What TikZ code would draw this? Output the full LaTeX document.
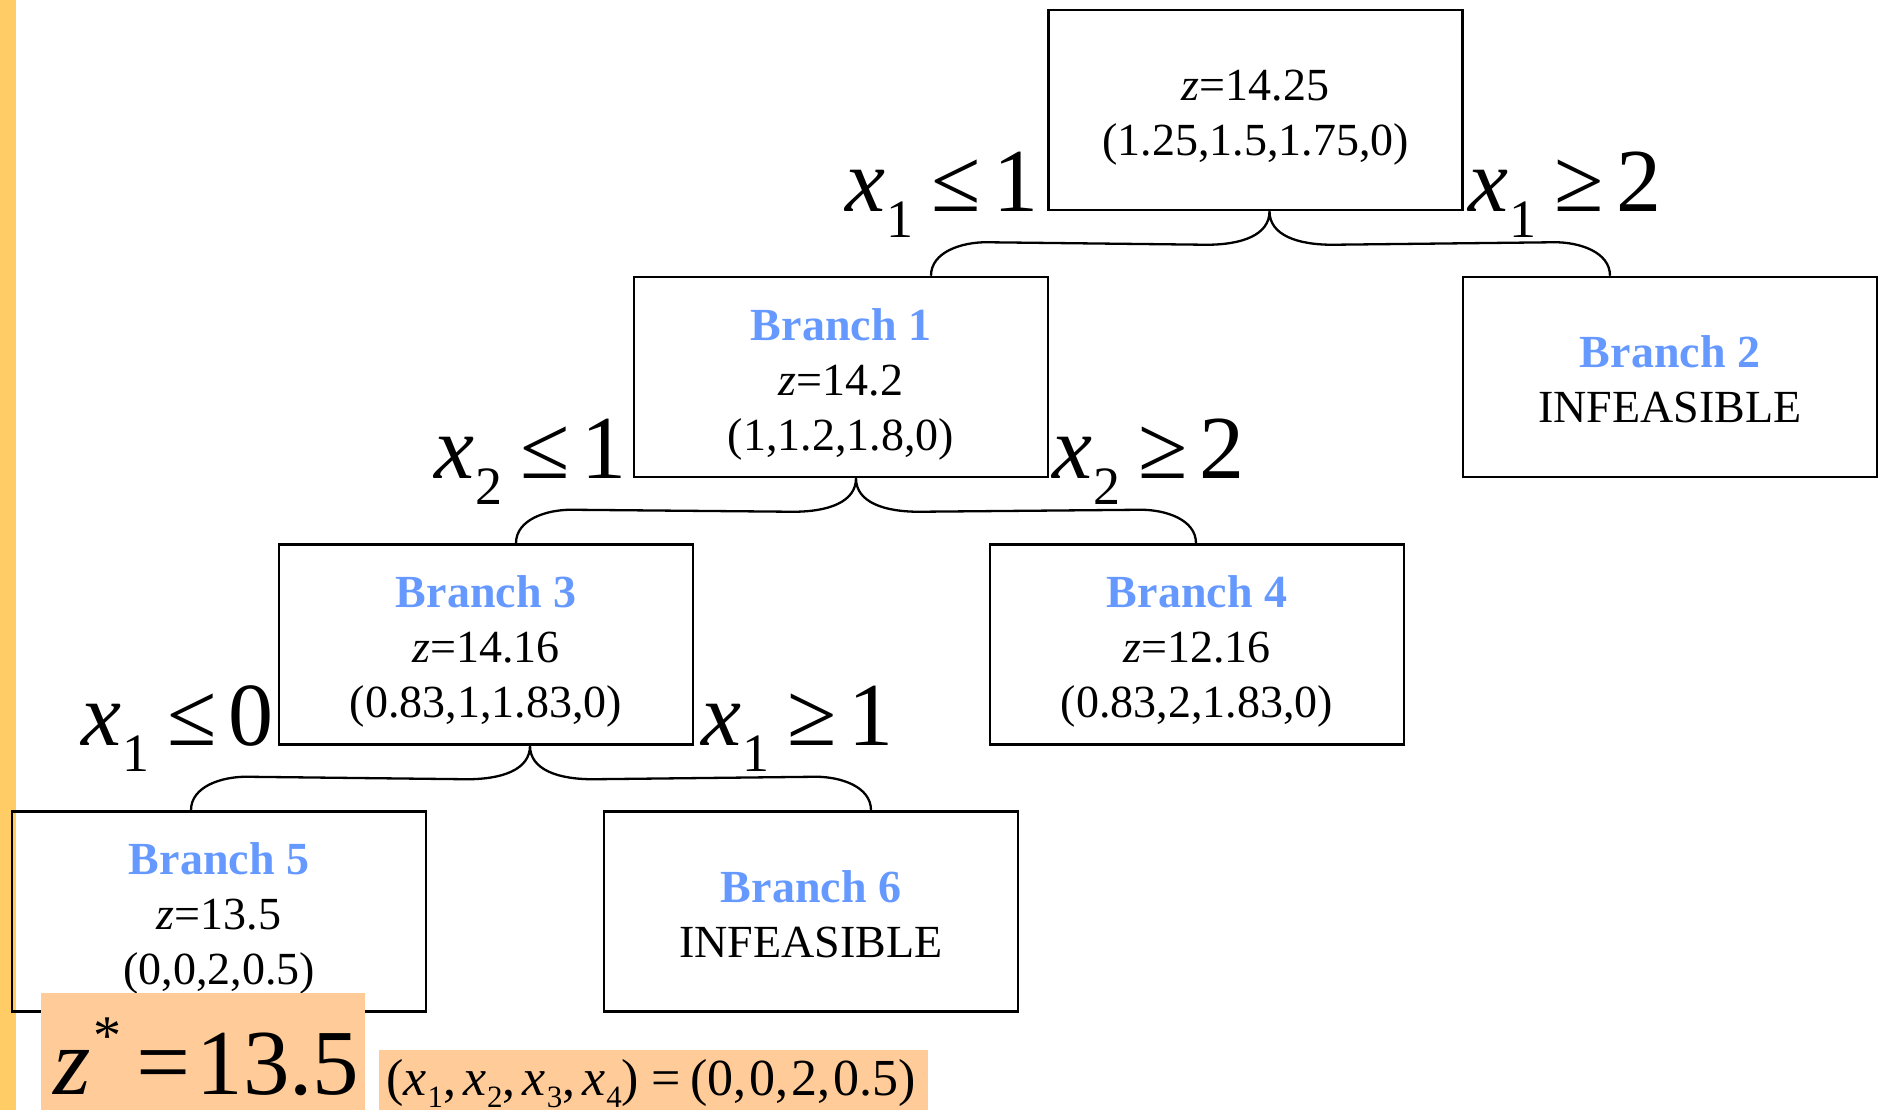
\documentclass[tikz,border=0pt]{standalone}
\usepackage{fontspec}
\setmainfont{Liberation Serif}
\usetikzlibrary{calc}
\definecolor{barorange}{HTML}{FFCC66}
\definecolor{peach}{HTML}{FFCC99}
\definecolor{branchblue}{HTML}{6699FF}
\newcommand{\bxs}[1]{\textit{x}\kern1pt\raisebox{-26pt}{\fontsize{54}{54}\selectfont #1}}
\newcommand{\brlab}[3]{\bxs{#1}\kern18pt#2\kern12pt#3}
\newcommand{\btitle}[1]{{\color{branchblue}\bfseries Branch #1}}
\newcommand{\topln}{\rule{0pt}{36pt}}
\newcommand{\lastln}[1]{\raisebox{0pt}[\height][0pt]{#1}}
\newcommand{\sxs}[1]{\textit{x}\kern1pt\raisebox{-12pt}{\fontsize{31}{31}\selectfont #1}}
\newcommand{\tbrace}[3]{%
  \draw[conn] (#2) .. controls +(0,-24) and +(-24,0) .. ($(#2)+(55,-33.5)$)
    -- ($(#1)+(-63,33.5)$) .. controls +(35,0) and +(0,24) .. (#1)
    .. controls +(0,24) and +(-35,0) .. ($(#1)+(63,33.5)$)
    -- ($(#3)+(-55,-33.5)$) .. controls +(24,0) and +(0,-24) .. (#3);}
\begin{document}
\begin{tikzpicture}[x=1pt,y=-1pt,
  box/.style={draw,line width=2.5pt,minimum width=414pt,minimum height=200pt,inner sep=0pt,align=center,font=\fontsize{46}{55}\selectfont},
  lab/.style={inner sep=0pt,font=\fontsize{90}{90}\selectfont},
  conn/.style={line width=2.3pt}]
\useasboundingbox (0,0) rectangle (1883,1110);
\fill[barorange] (0,0) rectangle (16,1110);
\node[box] (root) at (1255.5,110) {\topln\textit{z}=14.25\\\lastln{(1.25,1.5,1.75,0)}};
\node[box] (b1) at (841,377) {\topln\btitle{1}\\\textit{z}=14.2\\\lastln{(1,1.2,1.8,0)}};
\node[box] (b2) at (1670,377) {\topln\btitle{2}\\\lastln{INFEASIBLE}};
\node[box] (b3) at (486,644.5) {\topln\btitle{3}\\\textit{z}=14.16\\\lastln{(0.83,1,1.83,0)}};
\node[box] (b4) at (1197,644.5) {\topln\btitle{4}\\\textit{z}=12.16\\\lastln{(0.83,2,1.83,0)}};
\node[box] (b5) at (219,911.5) {\topln\btitle{5}\\\textit{z}=13.5\\\lastln{(0,0,2,0.5)}};
\node[box] (b6) at (811,911.5) {\topln\btitle{6}\\\lastln{INFEASIBLE}};
\coordinate (t0) at ($(root.south)+(14,0)$);
\coordinate (e1) at ($(b1.north)+(90,0)$);
\coordinate (e2) at ($(b2.north)+(-60,0)$);
\coordinate (t1) at ($(b1.south)+(15,0)$);
\coordinate (e3) at ($(b3.north)+(30,0)$);
\coordinate (e4) at ($(b4.north)+(-1,0)$);
\coordinate (t3) at ($(b3.south)+(44,0)$);
\coordinate (e5) at ($(b5.north)+(-28,0)$);
\coordinate (e6) at ($(b6.north)+(60,0)$);
\tbrace{t0}{e1}{e2}
\tbrace{t1}{e3}{e4}
\tbrace{t3}{e5}{e6}
\node[lab,anchor=base east] (l1) at ($(root.south west)+(-9,0)$) {\brlab{1}{≤}{1}};
\node[lab,anchor=base west] (r1) at ($(root.south east)+(5,0)$) {\brlab{1}{≥}{2}};
\node[lab,anchor=base east] (l2) at ($(b1.south west)+(-6,0)$) {\brlab{2}{≤}{1}};
\node[lab,anchor=base west] (r2) at ($(b1.south east)+(3,0)$) {\brlab{2}{≥}{2}};
\node[lab,anchor=base east] (l3) at ($(b3.south west)+(-4,0)$) {\brlab{1}{≤}{0}};
\node[lab,anchor=base west] (r3) at ($(b3.south east)+(7,0)$) {\brlab{1}{≥}{1}};
\fill[peach] (41,993) rectangle (365,1110);
\node[anchor=base west,inner sep=0pt,font=\fontsize{96}{96}\selectfont] (zstar) at (53,1094) {\textit{z}\kern3pt\raisebox{40pt}{\fontsize{56}{56}\selectfont *}\kern15pt=\kern6pt{\fontsize{93}{93}\selectfont 13.5}};
\fill[peach] (379,1050) rectangle (928,1110);
\node[anchor=base west,inner sep=0pt,font=\fontsize{52}{52}\selectfont] (sol) at (386,1095) {(\sxs{1},\kern7pt\sxs{2},\kern7pt\sxs{3},\kern7pt\sxs{4})\kern12pt=\kern10pt(0,\kern3pt0,\kern3pt2,\kern3pt0.5)};
\end{tikzpicture}
\end{document}
